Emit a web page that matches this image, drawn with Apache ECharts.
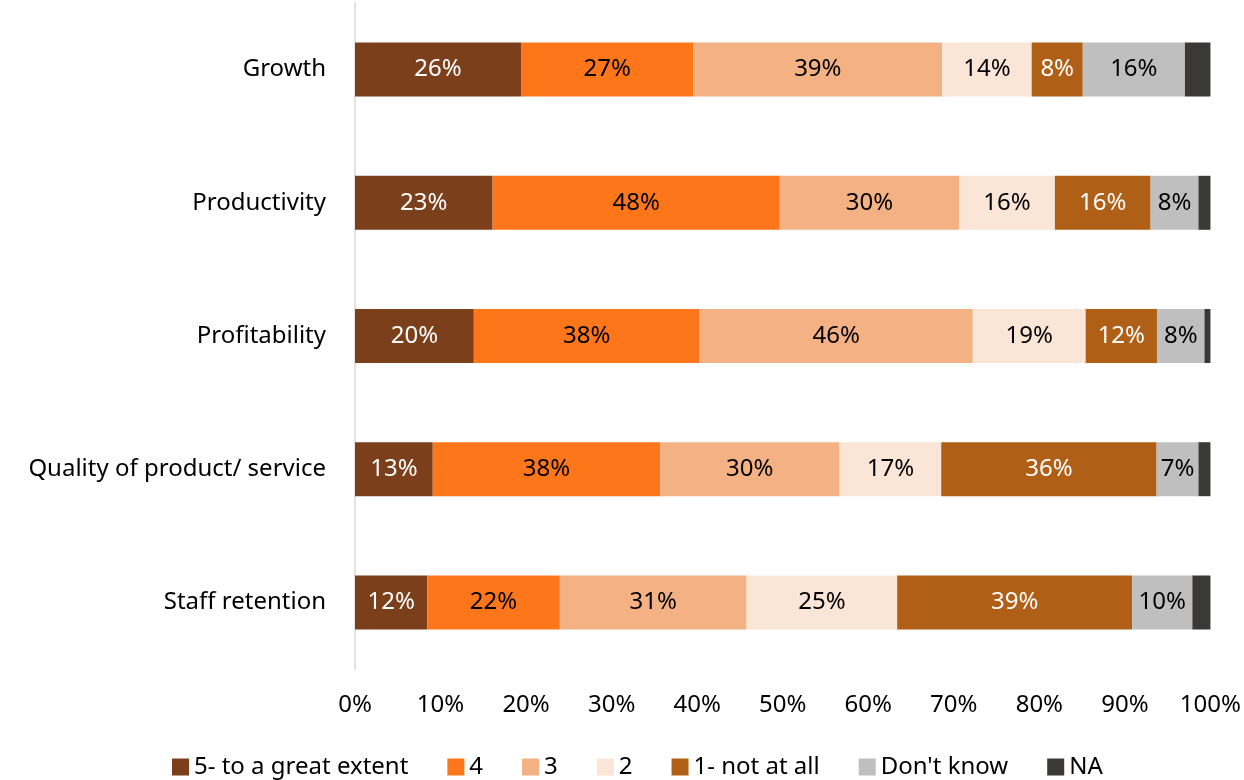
<!DOCTYPE html>
<html>
<head>
<meta charset="utf-8">
<title>Impact by area</title>
<script src="https://cdn.jsdelivr.net/npm/echarts@6/dist/echarts.min.js"></script>
<style>
  html, body { margin: 0; padding: 0; background: #ffffff; }
  #chart { width: 1244px; height: 780px; }
</style>
</head>
<body>
<div id="chart"></div>
<script>
// Areas rated, top to bottom
const categories = ['Growth', 'Productivity', 'Profitability', 'Quality of product/ service', 'Staff retention'];

// Response shares (%) per rating, in category order
const greatExtent = [26, 23, 20, 13, 12];
const four        = [27, 48, 38, 38, 22];
const three       = [39, 30, 46, 30, 31];
const two         = [14, 16, 19, 17, 25];
const notAtAll    = [8, 16, 12, 36, 39];
const dontKnow    = [16, 8, 8, 7, 10];
const na          = [4, 2, 1, 2, 3];

const seriesNames = ['5- to a great extent', '4', '3', '2', '1- not at all', "Don't know", 'NA'];
const seriesValues = [greatExtent, four, three, two, notAtAll, dontKnow, na];
const seriesColors = ['#7B3F1B', '#FD761A', '#F4B183', '#FBE5D6', '#B05F16', '#BFBFBF', '#3B3938'];
const labelColors  = ['#ffffff', '#000000', '#000000', '#000000', '#ffffff', '#000000', null];

const xTicks = [0, 10, 20, 30, 40, 50, 60, 70, 80, 90, 100];

const FONT = 'Noto Sans';
const FONT_SIZE = 24;

// Each bar is scaled to fill 100% of its row
const totals = categories.map((_, i) => seriesValues.reduce((s, arr) => s + arr[i], 0));

const series = seriesNames.map((name, k) => ({
  name: name,
  type: 'bar',
  stack: 'all',
  barWidth: 54,
  itemStyle: { color: seriesColors[k] },
  label: {
    show: labelColors[k] !== null,
    position: 'inside',
    color: labelColors[k] || '#000',
    fontFamily: FONT,
    fontSize: FONT_SIZE,
    formatter: p => seriesValues[k][p.dataIndex] + '%'
  },
  emphasis: { disabled: true },
  data: seriesValues[k].map((v, i) => v / totals[i] * 100)
}));

const chart = echarts.init(document.getElementById('chart'), null, { renderer: 'canvas' });
chart.setOption({
  animation: false,
  backgroundColor: '#ffffff',
  textStyle: { fontFamily: FONT },
  grid: { left: 355, right: 33, top: 3, height: 666, containLabel: false },
  legend: {
    top: 750,
    left: 167,
    itemWidth: 17,
    itemHeight: 17,
    itemGap: 39,
    icon: 'rect',
    textStyle: { fontFamily: FONT, fontSize: FONT_SIZE, color: '#000' },
    data: seriesNames
  },
  xAxis: {
    type: 'value',
    min: xTicks[0],
    max: xTicks[xTicks.length - 1],
    interval: 10,
    axisLine: { show: false },
    axisTick: { show: false },
    splitLine: { show: false },
    axisLabel: {
      margin: 24,
      fontFamily: FONT,
      fontSize: FONT_SIZE,
      color: '#000',
      formatter: '{value}%'
    }
  },
  yAxis: {
    type: 'category',
    inverse: true,
    data: categories,
    axisLine: { show: true, lineStyle: { color: '#D9D9D9', width: 1.5 } },
    axisTick: { show: false },
    axisLabel: {
      margin: 29,
      fontFamily: FONT,
      fontSize: FONT_SIZE,
      color: '#000'
    }
  },
  series: series
});
</script>
</body>
</html>
